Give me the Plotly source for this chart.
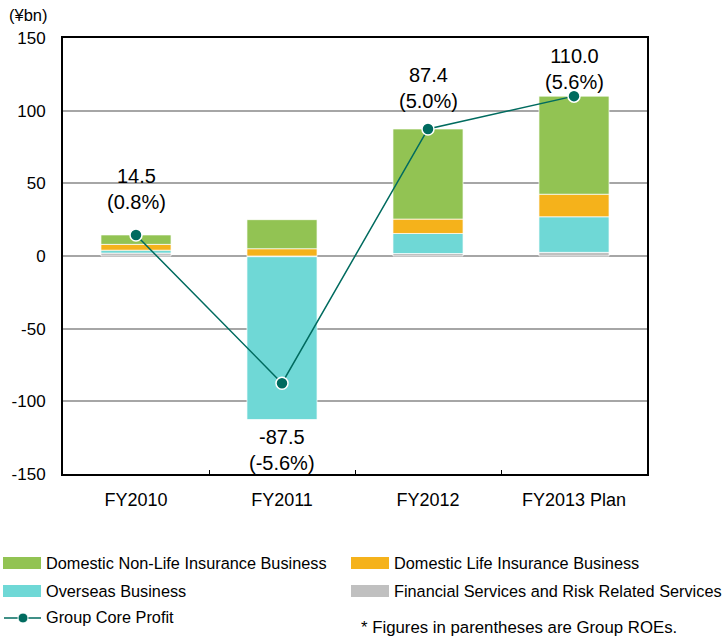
import plotly.graph_objects as go

# Fiscal years
categories = ["FY2010", "FY2011", "FY2012", "FY2013 Plan"]

# Group core profit breakdown by business (¥bn)
domestic_non_life = [6.5, 20.0, 62.0, 67.5]
domestic_life = [4.0, 5.0, 9.9, 15.5]
overseas = [2.0, -112.0, 13.8, 24.5]
financial_services = [2.0, -0.5, 1.7, 2.5]

# Group core profit (¥bn) and Group ROE (%)
core_profit = [14.5, -87.5, 87.4, 110.0]
group_roe = [0.8, -5.6, 5.0, 5.6]

y_tickvals = [150, 100, 50, 0, -50, -100, -150]
y_ticktext = ["150", "100", "50", "0", "-50", "-100", "-150"]

series_names = [
    "Domestic Non-Life Insurance Business",
    "Domestic Life Insurance Business",
    "Overseas Business",
    "Financial Services and Risk Related Services",
]
line_name = "Group Core Profit"
footnote = "* Figures in parentheses are Group ROEs."

colors = ["#92C353", "#F5B21B", "#6FD8D6", "#C0C0C0"]
line_color = "#006B5F"
FONT = "Liberation Sans, Arial, sans-serif"

# plot area geometry (pixels) used to place the hand-built legend
W, H = 722, 639
L, R, T, B = 63, 75, 38, 165
PW, PH = W - L - R, H - T - B


def px_x(p):
    return (p - L) / PW


def px_y(p):
    return (H - B - p) / PH


fig = go.Figure()

# stacked bars: bottom segment first
stack = [
    (series_names[3], financial_services, colors[3]),
    (series_names[2], overseas, colors[2]),
    (series_names[1], domestic_life, colors[1]),
    (series_names[0], domestic_non_life, colors[0]),
]
for name, vals, col in stack:
    fig.add_trace(go.Bar(
        x=categories, y=vals, name=name, width=0.48,
        marker=dict(color=col, line=dict(color="rgba(255,255,255,0.7)", width=1)),
        showlegend=False,
    ))

fig.add_trace(go.Scatter(
    x=categories, y=core_profit, name=line_name, mode="lines+markers",
    line=dict(color=line_color, width=1.5),
    marker=dict(color=line_color, size=12, line=dict(color="white", width=1.5)),
    showlegend=False,
))

# value / ROE labels next to each point
label_shift = [20, -41, 15, 1]
annotations = []
for cat, v, r, s in zip(categories, core_profit, group_roe, label_shift):
    annotations.append(dict(
        x=cat, y=v, xref="x", yref="y",
        text=f"{v:.1f}<br>({r:.1f}%)",
        showarrow=False, yanchor="bottom" if s > 0 else "top", yshift=s,
        font=dict(size=20, color="#000000", family=FONT),
    ))

annotations.append(dict(
    x=px_x(7), y=px_y(15), xref="paper", yref="paper", text="(¥bn)",
    showarrow=False, xanchor="left", yanchor="middle",
    font=dict(size=16.5, color="#000000", family=FONT),
))

# legend built from shapes and text
shapes = []
legend_items = [
    (series_names[0], colors[0], 3, 563),
    (series_names[1], colors[1], 351, 563),
    (series_names[2], colors[2], 3, 591),
    (series_names[3], colors[3], 351, 591),
]
for name, col, x0, yc in legend_items:
    shapes.append(dict(
        type="rect", xref="paper", yref="paper",
        x0=px_x(x0), x1=px_x(x0 + 38), y0=px_y(yc + 6), y1=px_y(yc - 6),
        fillcolor=col, line=dict(width=0),
    ))
    annotations.append(dict(
        x=px_x(x0 + 41), y=px_y(yc), xref="paper", yref="paper", text=name,
        showarrow=False, xanchor="left", yanchor="middle",
        font=dict(size=16.3, color="#000000", family=FONT),
    ))

shapes.append(dict(
    type="line", xref="paper", yref="paper",
    x0=px_x(4), x1=px_x(41), y0=px_y(618), y1=px_y(618),
    line=dict(color=line_color, width=1.5),
))
shapes.append(dict(
    type="circle", xref="paper", yref="paper",
    x0=px_x(18), x1=px_x(28), y0=px_y(623), y1=px_y(613),
    fillcolor=line_color, line=dict(color="white", width=1),
))
annotations.append(dict(
    x=px_x(44), y=px_y(617), xref="paper", yref="paper", text=line_name,
    showarrow=False, xanchor="left", yanchor="middle",
    font=dict(size=16.3, color="#000000", family=FONT),
))
annotations.append(dict(
    x=px_x(359), y=px_y(627), xref="paper", yref="paper", text=footnote,
    showarrow=False, xanchor="left", yanchor="middle",
    font=dict(size=16.8, color="#000000", family=FONT),
))

fig.update_layout(
    width=W, height=H,
    margin=dict(l=L, r=R, t=T, b=B, pad=0),
    barmode="relative",
    plot_bgcolor="white", paper_bgcolor="white",
    font=dict(family=FONT, color="#000000"),
    annotations=annotations, shapes=shapes,
    showlegend=False,
)
fig.update_xaxes(
    type="category", showline=True, linecolor="#000000", linewidth=2, mirror=True,
    ticks="inside", tickson="boundaries", ticklen=4, tickcolor="#000000",
    showgrid=False, tickfont=dict(size=18, family=FONT, color="#000000"),
    ticklabelstandoff=8,
)
fig.update_yaxes(
    range=[-150, 150], tickvals=y_tickvals, ticktext=y_ticktext,
    showline=True, linecolor="#000000", linewidth=2, mirror=True,
    showgrid=True, gridcolor="#A6A6A6", gridwidth=1.5,
    zeroline=True, zerolinecolor="#A6A6A6", zerolinewidth=1.5,
    ticks="", tickfont=dict(size=17, family=FONT, color="#000000"),
    ticklabelstandoff=12,
)

fig.write_html("out.html")
